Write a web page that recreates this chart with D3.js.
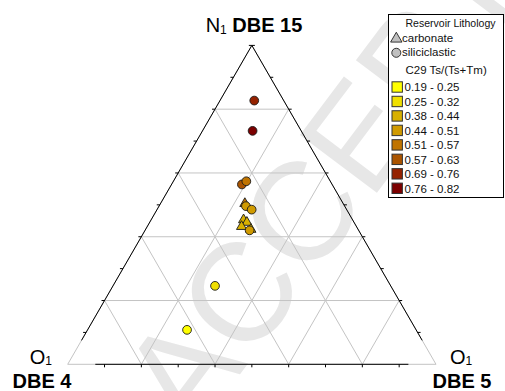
<!DOCTYPE html>
<html>
<head>
<meta charset="utf-8">
<script src="https://cdn.jsdelivr.net/npm/d3@7/dist/d3.min.js"></script>
<style>
  html, body { margin: 0; padding: 0; background: #fff; }
  svg { display: block; }
  text { font-family: "Liberation Sans", Arial, sans-serif; }
</style>
</head>
<body>
<svg id="chart" width="505" height="391"></svg>
<script>
// Ternary composition of each sample (percent of N1 DBE 15, O1 DBE 4, O1 DBE 5)
const dbe15 = [82.7, 73.2, 56.4, 57.4, 50.4, 49.6, 48.5, 45.3, 44.5, 43.2, 42.3, 42.0, 24.6, 10.8];
const dbe4  = [ 8.0, 13.2, 24.5, 22.8, 26.7, 26.8, 25.8, 29.6, 29.1, 31.2, 29.1, 29.6, 47.7, 62.2];
const dbe5  = [ 9.3, 13.6, 19.1, 19.8, 22.9, 23.6, 25.7, 25.1, 26.4, 25.6, 28.6, 28.4, 27.7, 27.0];
const lithology = ["siliciclastic", "siliciclastic", "siliciclastic", "siliciclastic", "carbonate",
                   "siliciclastic", "siliciclastic", "carbonate", "carbonate", "carbonate", "carbonate",
                   "siliciclastic", "siliciclastic", "siliciclastic"];
const ratioClass = [6, 7, 5, 4, 4, 3, 3, 2, 2, 2, 2, 3, 1, 0];

// C29 Ts/(Ts+Tm) classes
const classLabels = ["0.19 - 0.25", "0.25 - 0.32", "0.38 - 0.44", "0.44 - 0.51",
                     "0.51 - 0.57", "0.57 - 0.63", "0.69 - 0.76", "0.76 - 0.82"];
const classColors = ["#ffff00", "#f0e000", "#d8b000", "#d09a00",
                     "#c07400", "#aa5400", "#952200", "#7c0000"];
const lithologyTypes = ["carbonate", "siliciclastic"];
const gridSteps = [0.2, 0.4, 0.6, 0.8];
const tickSteps = d3.range(1, 10).map(d => d / 10);

const svg = d3.select("#chart");

// Watermark across the page
svg.append("text")
  .attr("transform", "translate(192,438) rotate(-53)")
  .attr("font-family", "'Liberation Serif', 'Times New Roman', serif")
  .attr("font-size", 140)
  .attr("fill", "#e7e7e7")
  .text("ACCEPTED MANUSCRIPT");

// Scales: vertical position from the apex fraction, horizontal from (right + apex/2)
const yS = d3.scaleLinear().domain([0, 1]).range([364.3, 45.4]);
const xS = d3.scaleLinear().domain([0, 1]).range([67.7, 436]);
// a = top (DBE 15), c = right (DBE 5)
const proj = (a, c) => [xS(c + a / 2), yS(a)];

const g = svg.append("g");

// Grid lines parallel to each side
const grid = g.append("g").attr("stroke", "#c4c4c4").attr("stroke-width", 1).attr("fill", "none");
gridSteps.forEach(t => {
  let p = proj(t, 0), q = proj(t, 1 - t);
  grid.append("line").attr("x1", p[0]).attr("y1", p[1]).attr("x2", q[0]).attr("y2", q[1]);
  p = proj(0, t); q = proj(1 - t, t);
  grid.append("line").attr("x1", p[0]).attr("y1", p[1]).attr("x2", q[0]).attr("y2", q[1]);
  p = proj(0, 1 - t); q = proj(1 - t, 0);
  grid.append("line").attr("x1", p[0]).attr("y1", p[1]).attr("x2", q[0]).attr("y2", q[1]);
});
const vA = proj(1, 0), vL = proj(0, 0), vR = proj(0, 1);
grid.append("path").attr("d", d3.line()([vA, vL, vR, vA]));

// Black axis lines
const axes = g.append("g").attr("stroke", "#000").attr("stroke-width", 1).attr("fill", "none");
const cut = 0.075;
axes.append("path").attr("d", d3.line()([proj(cut, 0), vA]));
axes.append("path").attr("d", d3.line()([proj(0, cut), proj(0, 1 - cut)]));
axes.append("path").attr("d", d3.line()([proj(cut, 1 - cut), vA]));

// Ticks every 10 %
const tl = 3;
tickSteps.concat([1]).forEach(t => {
  let p = proj(t, 0);
  axes.append("line").attr("x1", p[0]).attr("y1", p[1]).attr("x2", p[0] - tl).attr("y2", p[1]);
  p = proj(t, 1 - t);
  axes.append("line").attr("x1", p[0]).attr("y1", p[1]).attr("x2", p[0] + tl).attr("y2", p[1]);
});
tickSteps.forEach(t => {
  const p = proj(0, t);
  axes.append("line").attr("x1", p[0]).attr("y1", p[1]).attr("x2", p[0]).attr("y2", p[1] + tl);
});

// Samples: carbonate triangles first, siliciclastic circles on top
const samples = dbe15.map((v, i) => {
  const s = v + dbe4[i] + dbe5[i];
  return { a: v / s, b: dbe4[i] / s, c: dbe5[i] / s, lith: lithology[i], cls: ratioClass[i] };
});
const color = d3.scaleOrdinal().domain(d3.range(classLabels.length)).range(classColors);
const shape = d3.scaleOrdinal().domain(lithologyTypes).range([d3.symbolTriangle, d3.symbolCircle]);
const size = d3.scaleOrdinal().domain(lithologyTypes).range([44, 60]);

const ordered = samples.filter(d => d.lith === "carbonate").concat(samples.filter(d => d.lith !== "carbonate"));
g.append("g").selectAll("path")
  .data(ordered)
  .join("path")
  .attr("transform", d => { const p = proj(d.a, d.c); return `translate(${p[0]},${p[1]})`; })
  .attr("d", d => d3.symbol().type(shape(d.lith)).size(size(d.lith))())
  .attr("fill", d => color(d.cls))
  .attr("stroke", "#1a1a1a")
  .attr("stroke-width", 0.9);

// Vertex labels
function vertexLabel(x, y, anchor, fs) {
  return svg.append("text").attr("x", x).attr("y", y).attr("text-anchor", anchor)
    .attr("font-size", fs).attr("fill", "#000");
}
const apexLabel = vertexLabel(254, 31.5, "middle", 20);
apexLabel.append("tspan").text("N");
apexLabel.append("tspan").attr("font-size", 12).attr("dy", 2).text("1");
apexLabel.append("tspan").attr("dy", -2).attr("font-weight", "bold").text(" DBE 15");

const leftLabel = vertexLabel(52, 364, "end", 20);
leftLabel.append("tspan").text("O");
leftLabel.append("tspan").attr("font-size", 12).attr("dy", 1).text("1");
vertexLabel(42, 388, "middle", 20).attr("font-weight", "bold").text("DBE 4");

const rightLabel = vertexLabel(450, 364, "start", 20);
rightLabel.append("tspan").text("O");
rightLabel.append("tspan").attr("font-size", 12).attr("dy", 1).text("1");
vertexLabel(462, 388, "middle", 20).attr("font-weight", "bold").text("DBE 5");

// Legend
const lg = svg.append("g");
lg.append("rect").attr("x", 388.5).attr("y", 14.5).attr("width", 115).attr("height", 183)
  .attr("fill", "#fff").attr("stroke", "#000").attr("stroke-width", 1);
const lfs = 11.5;
lg.append("text").attr("x", 405.5).attr("y", 27.3).attr("font-size", lfs).attr("fill", "#111")
  .attr("textLength", 90).attr("lengthAdjust", "spacingAndGlyphs")
  .text("Reservoir Lithology");
lithologyTypes.forEach((name, i) => {
  const cy = 38.8 + i * 14;
  lg.append("path")
    .attr("transform", `translate(396.3,${cy})`)
    .attr("d", d3.symbol().type(shape(name)).size(i === 0 ? 56 : 64)())
    .attr("fill", "#c0c0c0").attr("stroke", "#222").attr("stroke-width", 0.9);
  lg.append("text").attr("x", 402).attr("y", cy + 3.4).attr("font-size", lfs).attr("fill", "#111").text(name);
});
lg.append("text").attr("x", 405.5).attr("y", 73.5).attr("font-size", lfs).attr("fill", "#111")
  .text("C29 Ts/(Ts+Tm)");
classLabels.forEach((lab, i) => {
  const cy = 87 + i * 14.47;
  lg.append("rect").attr("x", 392).attr("y", cy - 5.2).attr("width", 10.4).attr("height", 10.4)
    .attr("fill", classColors[i]).attr("stroke", "#333").attr("stroke-width", 1);
  lg.append("text").attr("x", 404.5).attr("y", cy + 4.3).attr("font-size", lfs).attr("fill", "#111").text(lab);
});
</script>
</body>
</html>
